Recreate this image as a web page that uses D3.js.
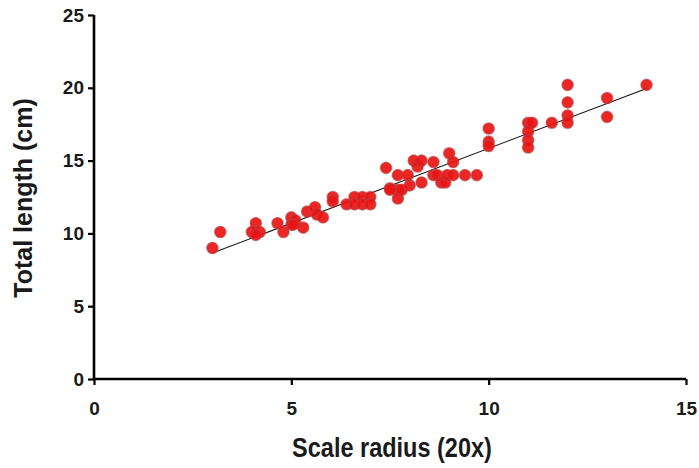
<!DOCTYPE html>
<html><head><meta charset="utf-8">
<script src="https://cdn.jsdelivr.net/npm/d3@7"></script>
<style>body{margin:0;background:#fff}svg{display:block}</style>
</head><body>
<svg id="c" width="699" height="468"></svg>
<script>
const scaleRadius = [3.0,3.2,4.1,4.0,4.2,4.1,4.65,4.8,5.0,5.1,5.0,5.05,5.3,5.4,5.6,5.65,5.8,6.05,6.05,6.4,6.6,6.6,6.8,6.8,7.0,7.0,7.5,7.7,
  7.4,7.5,7.7,7.7,7.8,7.95,8.0,8.1,8.2,8.3,8.3,8.6,8.6,8.7,8.8,8.9,8.95,9.0,9.1,9.1,9.4,9.7,
  10.0,10.0,10.0,11.0,11.1,11.0,11.0,11.0,11.6,12.0,12.0,12.0,12.0,13.0,13.0,14.0];
const totalLength = [9.0,10.1,10.7,10.1,10.1,9.9,10.7,10.1,11.1,10.9,10.6,10.6,10.4,11.5,11.8,11.3,11.1,12.5,12.2,12.0,12.5,12.0,12.5,12.0,12.5,12.0,13.1,13.0,
  14.5,13.0,14.0,12.4,13.0,14.0,13.3,15.0,14.6,15.0,13.5,14.9,14.0,14.0,13.5,13.5,14.0,15.5,14.9,14.0,14.0,14.0,
  17.2,16.3,16.0,17.6,17.6,17.0,16.4,15.9,17.6,20.2,19.0,18.1,17.6,19.3,18.0,20.2];
const fitX = [3.0, 14.0];
const fitY = [8.65, 19.95];
const xTicks = [0,5,10,15];
const yTicks = [0,5,10,15,20,25];
const xTitle = "Scale radius (20x)";
const yTitle = "Total length (cm)";

const svg = d3.select("#c");
const L=94, R=686, T=15, B=379;
const x = d3.scaleLinear().domain([0,15]).range([L,R]);
const y = d3.scaleLinear().domain([0,25]).range([B,T]);
const font = "'Liberation Sans', Arial, sans-serif";

const xa = svg.append("g").attr("transform",`translate(0,${B})`)
  .call(d3.axisBottom(x).tickValues(xTicks).tickSize(6).tickPadding(17).tickSizeOuter(0));
const ya = svg.append("g").attr("transform",`translate(${L},0)`)
  .call(d3.axisLeft(y).tickValues(yTicks).tickSize(6).tickPadding(4).tickSizeOuter(0));
[xa,ya].forEach(a=>{
  a.select(".domain").attr("stroke","#000").attr("stroke-width",2.6);
  a.selectAll(".tick line").attr("stroke","#000").attr("stroke-width",2.2);
  a.selectAll(".tick text").attr("font-family",font).attr("font-weight","bold")
    .attr("font-size",19).attr("fill","#1a1a1a");
});
ya.select(".domain").attr("d",`M0,${T}V${B}`);
xa.select(".domain").attr("d",`M${L},0H${R}`);

svg.append("line")
  .attr("x1",x(fitX[0])).attr("y1",y(fitY[0]))
  .attr("x2",x(fitX[1])).attr("y2",y(fitY[1]))
  .attr("stroke","#111").attr("stroke-width",1.1);

svg.append("g").selectAll("circle").data(scaleRadius.map((v,i)=>[v,totalLength[i]]))
  .join("circle")
  .attr("cx",d=>x(d[0])).attr("cy",d=>y(d[1])).attr("r",5.6)
  .attr("fill","#ea1212").attr("fill-opacity",0.92)
  .attr("stroke","#b84040").attr("stroke-opacity",0.65).attr("stroke-width",1.4);

svg.append("text").attr("transform",`translate(${(L+R)/2+2},457) scale(1,1.15)`).attr("text-anchor","middle")
  .attr("font-family",font).attr("font-weight","bold").attr("font-size",23.5).attr("fill","#1a1a1a")
  .text(xTitle);
svg.append("text").attr("transform",`translate(32,198) rotate(-90)`).attr("text-anchor","middle")
  .attr("font-family",font).attr("font-weight","bold").attr("font-size",25).attr("fill","#1a1a1a")
  .text(yTitle);
</script>
</body></html>
